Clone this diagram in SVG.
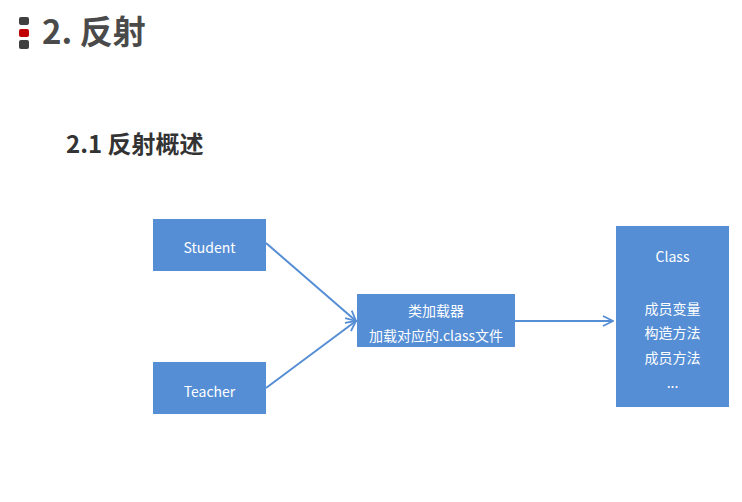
<svg xmlns="http://www.w3.org/2000/svg" width="742" height="502" viewBox="0 0 742 502">
<style>
.box{fill:#558ed5}
.t{font-family:"Noto Sans CJK SC","Microsoft YaHei",sans-serif;font-size:14px;fill:#ffffff;text-anchor:middle}
.h{font-family:"Noto Sans CJK SC",sans-serif;font-weight:bold}
.c{stroke:#558ed5;stroke-width:2;fill:none}
</style>
<defs>
<marker id="arr" viewBox="0 0 12 12" refX="11" refY="6" markerWidth="12" markerHeight="12" markerUnits="userSpaceOnUse" orient="auto">
<path d="M1,1 L11,6 L1,11" fill="none" stroke="#558ed5" stroke-width="1.8"/>
</marker>
</defs>
<rect width="742" height="502" fill="#ffffff"/>
<g id="bullet">
<rect x="19" y="17" width="10" height="8" rx="2" fill="#3f3f3f"/>
<rect x="19" y="29" width="10" height="8" rx="2" fill="#c00000"/>
<rect x="19" y="40" width="10" height="9" rx="2" fill="#3f3f3f"/>
</g>
<text class="h" x="42" y="44" font-size="33" fill="#4a4a4a">2. 反射</text>
<text class="h" x="66" y="153" font-size="24" fill="#333333">2.1 反射概述</text>
<g id="connectors">
<line class="c" x1="266" y1="243" x2="356" y2="321" marker-end="url(#arr)"/>
<line class="c" x1="266" y1="388" x2="356" y2="321" marker-end="url(#arr)"/>
<line class="c" x1="515" y1="321" x2="613" y2="321" marker-end="url(#arr)"/>
</g>
<g id="student">
<rect class="box" x="153" y="219" width="113" height="52"/>
<text class="t" x="209.5" y="253">Student</text>
</g>
<g id="teacher">
<rect class="box" x="153" y="362" width="113" height="52"/>
<text class="t" x="209.5" y="397">Teacher</text>
</g>
<g id="loader">
<rect class="box" x="357" y="294" width="158" height="53"/>
<text class="t" x="436" y="316" font-size="13">类加载器</text>
<text class="t" x="436" y="341" font-size="13">加载对应的.class文件</text>
</g>
<g id="class">
<rect class="box" x="616" y="226" width="113" height="181"/>
<text class="t" x="672.5" y="262">Class</text>
<text class="t" x="672.5" y="314">成员变量</text>
<text class="t" x="672.5" y="338">构造方法</text>
<text class="t" x="672.5" y="363">成员方法</text>
<text class="t" x="672.5" y="388">...</text>
</g>
</svg>
